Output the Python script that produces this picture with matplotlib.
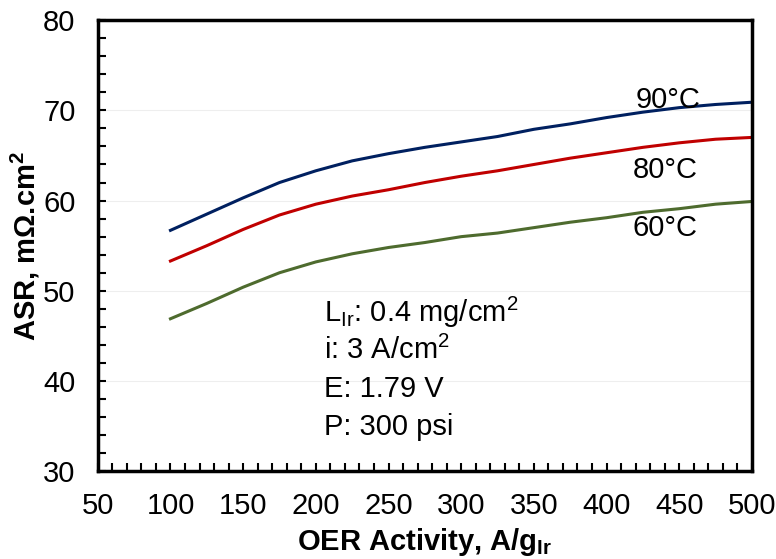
import numpy as np
import matplotlib
matplotlib.use('Agg')
import matplotlib.pyplot as plt
from matplotlib.ticker import MultipleLocator

plt.rcParams['font.family'] = ['Liberation Sans', 'DejaVu Sans']

# Datos
activity = [100, 125, 150, 175, 200, 225, 250, 275, 300,
            325, 350, 375, 400, 425, 450, 475, 500]
asr_90 = [56.7, 58.5, 60.3, 62.0, 63.3, 64.4, 65.2, 65.9, 66.5,
          67.1, 67.9, 68.5, 69.2, 69.8, 70.3, 70.65, 70.9]
asr_80 = [53.3, 55.0, 56.8, 58.4, 59.6, 60.5, 61.2, 62.0, 62.7,
          63.3, 64.0, 64.7, 65.3, 65.9, 66.4, 66.8, 67.0]
asr_60 = [46.9, 48.6, 50.4, 52.0, 53.2, 54.1, 54.8, 55.35, 56.0,
          56.4, 57.0, 57.6, 58.1, 58.7, 59.1, 59.6, 59.9]
curve_labels = ['90°C', '80°C', '60°C']
conditions = ['L$_{\\mathregular{Ir}}$: 0.4 mg/cm$^{\\mathregular{2}}$',
              'i: 3 A/cm$^{\\mathregular{2}}$',
              'E: 1.79 V',
              'P: 300 psi']

fig = plt.figure(figsize=(7.76, 5.59), dpi=100)
ax = fig.add_axes([0.126, 0.157, 0.843, 0.807])

ax.plot(activity, asr_90, color='#002060', lw=2.2)
ax.plot(activity, asr_80, color='#C00000', lw=2.2)
ax.plot(activity, asr_60, color='#4E6B2E', lw=2.2)

ax.set_xlim(50, 500)
ax.set_ylim(30, 80)
ax.xaxis.set_major_locator(MultipleLocator(50))
ax.xaxis.set_minor_locator(MultipleLocator(10))
ax.yaxis.set_major_locator(MultipleLocator(10))
ax.yaxis.set_minor_locator(MultipleLocator(2))
ax.tick_params(which='both', direction='in', length=6, width=1.5,
               top=False, right=False, labelsize=21)
ax.tick_params(axis='x', pad=15)
ax.tick_params(axis='y', pad=16)
ax.grid(axis='y', which='major', color='#eeeeee', lw=0.8)
for s in ax.spines.values():
    s.set_linewidth(2.5)

ax.set_xlabel('OER Activity, A/g$_{\\mathregular{Ir}}$', fontsize=21, fontweight='bold', labelpad=4)
ax.set_ylabel('ASR, mΩ.cm$^{\\mathregular{2}}$', fontsize=21, fontweight='bold', labelpad=1)

# Etiquetas de las curvas
ax.text(420, 70.28, curve_labels[0], fontsize=21, ha='left', va='baseline')
ax.text(418, 62.45, curve_labels[1], fontsize=21, ha='left', va='baseline')
ax.text(417.5, 56.1, curve_labels[2], fontsize=21, ha='left', va='baseline')

# Condiciones
ys = [46.57, 42.42, 38.2, 34.0]
for t, y in zip(conditions, ys):
    ax.text(205.7, y, t, fontsize=21, ha='left', va='baseline')

fig.savefig('out.png', dpi=100)
